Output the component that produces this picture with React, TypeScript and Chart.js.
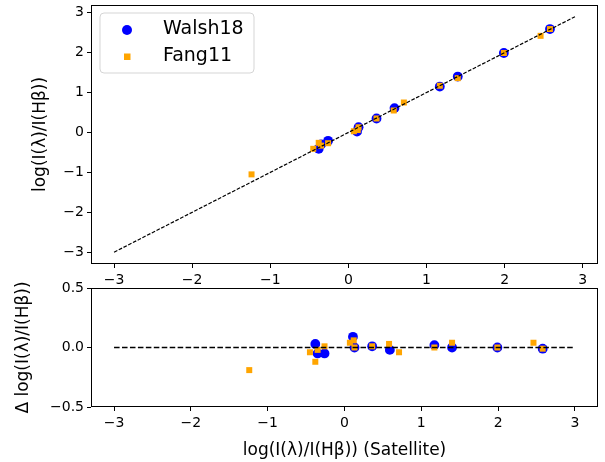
import React, { useEffect, useRef } from 'react';
import { Chart, registerables } from 'chart.js';

Chart.register(...registerables);
Chart.defaults.font.family = "'DejaVu Sans', sans-serif";
Chart.defaults.color = '#000';

// Walsh18 points: satellite value (x), reference value (y), residual (satellite - reference)
const walshSat = [-0.38, -0.35, -0.26, 0.11, 0.13, 0.36, 0.59, 1.17, 1.4, 1.99, 2.58];
const walshRef = [-0.41, -0.3, -0.21, 0.02, 0.13, 0.35, 0.61, 1.15, 1.4, 1.99, 2.59];
const walshDelta = [0.03, -0.05, -0.05, 0.09, 0.0, 0.01, -0.02, 0.02, 0.0, 0.0, -0.01];

// Fang11 points
const fangSat = [-1.24, -0.45, -0.38, -0.35, -0.26, 0.07, 0.12, 0.13, 0.36, 0.58, 0.71, 1.17, 1.4, 1.99, 2.46, 2.58];
const fangRef = [-1.05, -0.41, -0.26, -0.33, -0.27, 0.03, 0.06, 0.13, 0.35, 0.55, 0.75, 1.17, 1.36, 1.99, 2.42, 2.59];
const fangDelta = [-0.19, -0.04, -0.12, -0.02, 0.01, 0.04, 0.06, 0.0, 0.01, 0.03, -0.04, 0.0, 0.04, 0.0, 0.04, -0.01];

// reference lines
const oneToOneX = [-3, 2.9];
const zeroLineX = [-3, 3];
const zeroLineY = [0, 0];

// ticks
const xTickValues = [-3, -2, -1, 0, 1, 2, 3];
const topYTickValues = [-3, -2, -1, 0, 1, 2, 3];
const bottomYTickValues = [-0.5, 0, 0.5];

const seriesLabels = ['Walsh18', 'Fang11'];

const fmtInt = (v: number) => (v < 0 ? '\u2212' : '') + Math.abs(v).toString();
const fmt1 = (v: number) => (v < 0 ? '\u2212' : '') + Math.abs(v).toFixed(1);

const frame = {
  id: 'frame',
  afterDraw(chart: any) {
    const { ctx, chartArea: a } = chart;
    ctx.save();
    ctx.strokeStyle = '#000';
    ctx.lineWidth = 1;
    ctx.strokeRect(Math.round(a.left) + 0.5, Math.round(a.top) + 0.5, Math.round(a.right - a.left) - 1, Math.round(a.bottom - a.top) - 1);
    ctx.restore();
  },
};

const legendBox = {
  id: 'legendBox',
  afterDraw(chart: any) {
    const ctx = chart.ctx;
    ctx.save();
    const x = 100, y = 13, w = 154, h = 60, r = 4;
    ctx.beginPath();
    ctx.moveTo(x + r, y);
    ctx.arcTo(x + w, y, x + w, y + h, r);
    ctx.arcTo(x + w, y + h, x, y + h, r);
    ctx.arcTo(x, y + h, x, y, r);
    ctx.arcTo(x, y, x + w, y, r);
    ctx.closePath();
    ctx.fillStyle = 'rgba(255,255,255,0.8)';
    ctx.fill();
    ctx.strokeStyle = '#d5d5d5';
    ctx.lineWidth = 1;
    ctx.stroke();
    // markers
    ctx.fillStyle = 'blue';
    ctx.beginPath();
    ctx.arc(127, 30, 5, 0, Math.PI * 2);
    ctx.fill();
    ctx.fillStyle = 'orange';
    ctx.fillRect(124, 53.5, 6.5, 6.5);
    ctx.fillStyle = '#000';
    ctx.font = "19px 'DejaVu Sans'";
    ctx.textBaseline = 'middle';
    ctx.textAlign = 'left';
    ctx.fillText(seriesLabels[0], 163, 29);
    ctx.fillText(seriesLabels[1], 163, 56);
    ctx.restore();
  },
};

const pts = (xs: number[], ys: number[]) => xs.map((x, i) => ({ x, y: ys[i] }));

const tickGrid = { display: true, drawOnChartArea: false, drawTicks: true, tickLength: 4, color: '#000', tickColor: '#000', lineWidth: 1 };

export default function App() {
  const topRef = useRef<HTMLCanvasElement>(null);
  const botRef = useRef<HTMLCanvasElement>(null);

  useEffect(() => {
    const top = new Chart(topRef.current!, {
      type: 'scatter',
      data: {
        datasets: [
          {
            label: '1:1',
            data: pts(oneToOneX, oneToOneX),
            showLine: true,
            borderColor: '#000',
            borderWidth: 1.2,
            borderDash: [3.7, 1.6],
            pointRadius: 0,
            order: 0,
          },
          {
            label: seriesLabels[1],
            data: pts(fangSat, fangRef),
            pointStyle: 'rect',
            pointRadius: 4.24,
            backgroundColor: 'orange',
            borderWidth: 0,
            order: 1,
          },
          {
            label: seriesLabels[0],
            data: pts(walshSat, walshRef),
            pointStyle: 'circle',
            pointRadius: 4.9,
            backgroundColor: 'blue',
            borderWidth: 0,
            order: 2,
          },
        ],
      },
      options: {
        responsive: false,
        animation: false,
        layout: { padding: { left: 0, right: 7, top: 3, bottom: 0 } },
        plugins: { legend: { display: false }, tooltip: { enabled: false } },
        scales: {
          x: {
            type: 'linear',
            min: -3.295,
            max: 3.195,
            grid: tickGrid,
            border: { display: false },
            afterBuildTicks: (s: any) => { s.ticks = xTickValues.map((v) => ({ value: v })); },
            afterFit: (s: any) => { s.height = 36; s.paddingLeft = 0; s.paddingRight = 0; },
            ticks: { font: { size: 14 }, color: '#000', padding: 4, maxRotation: 0, autoSkip: false, callback: (v: any) => fmtInt(Number(v)) },
          },
          y: {
            type: 'linear',
            min: -3.295,
            max: 3.195,
            grid: tickGrid,
            border: { display: false },
            afterBuildTicks: (s: any) => { s.ticks = topYTickValues.map((v) => ({ value: v })); },
            afterFit: (s: any) => { s.width = 91; s.paddingTop = 0; s.paddingBottom = 0; },
            ticks: { font: { size: 14 }, color: '#000', padding: 3, autoSkip: false, callback: (v: any) => fmtInt(Number(v)) },
            title: { display: true, text: 'log(I(\u03bb)/I(H\u03b2))', font: { size: 17 }, color: '#000', padding: { top: 30, bottom: 0 } },
          },
        },
      },
      plugins: [frame, legendBox],
    } as any);

    const bot = new Chart(botRef.current!, {
      type: 'scatter',
      data: {
        datasets: [
          {
            label: 'zero',
            data: pts(zeroLineX, zeroLineY),
            showLine: true,
            borderColor: '#000',
            borderWidth: 1.5,
            borderDash: [5.55, 2.4],
            pointRadius: 0,
            order: 0,
          },
          {
            label: seriesLabels[1],
            data: pts(fangSat, fangDelta),
            pointStyle: 'rect',
            pointRadius: 4.24,
            backgroundColor: 'orange',
            borderWidth: 0,
            order: 1,
          },
          {
            label: seriesLabels[0],
            data: pts(walshSat, walshDelta),
            pointStyle: 'circle',
            pointRadius: 4.9,
            backgroundColor: 'blue',
            borderWidth: 0,
            order: 2,
          },
        ],
      },
      options: {
        responsive: false,
        animation: false,
        layout: { padding: { left: 0, right: 7, top: 8, bottom: 0 } },
        plugins: { legend: { display: false }, tooltip: { enabled: false } },
        scales: {
          x: {
            type: 'linear',
            min: -3.3,
            max: 3.3,
            grid: tickGrid,
            border: { display: false },
            afterBuildTicks: (s: any) => { s.ticks = xTickValues.map((v) => ({ value: v })); },
            afterFit: (s: any) => { s.height = 55; s.paddingLeft = 0; s.paddingRight = 0; },
            ticks: { font: { size: 14 }, color: '#000', padding: 4, maxRotation: 0, autoSkip: false, callback: (v: any) => fmtInt(Number(v)) },
            title: { display: true, text: 'log(I(\u03bb)/I(H\u03b2)) (Satellite)', font: { size: 17 }, color: '#000', padding: { top: 0, bottom: 1 } },
          },
          y: {
            type: 'linear',
            min: -0.5,
            max: 0.5,
            grid: tickGrid,
            border: { display: false },
            afterBuildTicks: (s: any) => { s.ticks = bottomYTickValues.map((v) => ({ value: v })); },
            afterFit: (s: any) => { s.width = 91; s.paddingTop = 0; s.paddingBottom = 0; },
            ticks: { font: { size: 14 }, color: '#000', padding: 3, autoSkip: false, callback: (v: any) => fmt1(Number(v)) },
            title: { display: true, text: '\u0394 log(I(\u03bb)/I(H\u03b2))', font: { size: 17 }, color: '#000', padding: { top: 13, bottom: 0 } },
          },
        },
      },
      plugins: [frame],
    } as any);

    return () => {
      top.destroy();
      bot.destroy();
    };
  }, []);

  return (
    <div style={{ position: 'fixed', left: 0, top: 0, width: 605, height: 462, background: '#fff' }}>
      <canvas ref={topRef} width={605} height={300} style={{ position: 'absolute', left: 0, top: 0 }} />
      <canvas ref={botRef} width={605} height={182} style={{ position: 'absolute', left: 0, top: 280 }} />
    </div>
  );
}
